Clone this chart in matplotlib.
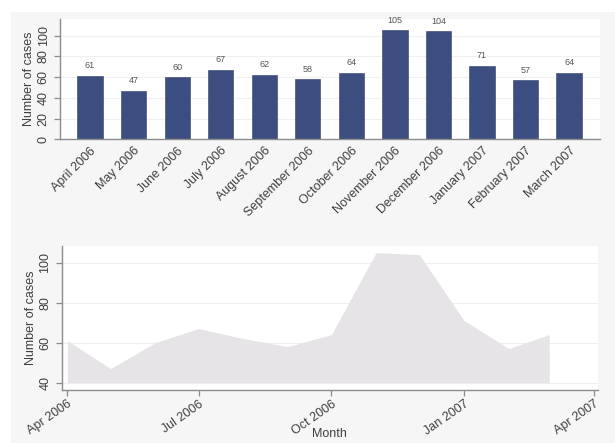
import numpy as np
import pandas as pd
import matplotlib
matplotlib.use("Agg")
import matplotlib.pyplot as plt
import matplotlib.dates as mdates
from matplotlib.patches import Rectangle

# ===================== Data =====================

month_labels = ["April 2006", "May 2006", "June 2006", "July 2006",
                "August 2006", "September 2006", "October 2006",
                "November 2006", "December 2006", "January 2007",
                "February 2007", "March 2007"]
month_starts = ["2006-04-01", "2006-05-01", "2006-06-01", "2006-07-01",
                "2006-08-01", "2006-09-01", "2006-10-01", "2006-11-01",
                "2006-12-01", "2007-01-01", "2007-02-01", "2007-03-01"]
cases = [61, 47, 60, 67, 62, 58, 64, 105, 104, 71, 57, 64]

date_ticks = ["2006-04-01", "2006-07-01", "2006-10-01", "2007-01-01", "2007-04-01"]

# ===================== Style =====================

plt.rcParams["font.family"] = ["Liberation Sans", "DejaVu Sans"]
bar_color = "#3c4e80"
area_color = "#e6e4e6"
axis_color = "#8c8c8c"
text_color = "#3f3f3f"
grid_color = "#f0f0f0"

W, H = 615, 443
fig = plt.figure(figsize=(W / 100, H / 100), dpi=100)
fig.patch.set_facecolor("#f6f6f6")
# white border strip at top / left of the scan
fig.patches.append(Rectangle((0, 1 - 12 / H), 1, 12 / H, transform=fig.transFigure,
                             facecolor="white", edgecolor="none", zorder=-1))
fig.patches.append(Rectangle((0, 0), 11 / W, 1, transform=fig.transFigure,
                             facecolor="white", edgecolor="none", zorder=-1))


def style_axes(ax):
    for side in ["top", "right"]:
        ax.spines[side].set_visible(False)
    for side in ["left", "bottom"]:
        ax.spines[side].set_color(axis_color)
        ax.spines[side].set_linewidth(1.0)
    ax.set_facecolor("white")
    ax.tick_params(axis="y", colors=axis_color, labelcolor=text_color,
                   length=4, width=0.9, labelsize=9, direction="out")
    ax.yaxis.grid(True, color=grid_color, linewidth=0.8)
    ax.set_axisbelow(True)


# ===================== Top: bar chart =====================

ax = fig.add_axes([60 / W, 1 - 139.3 / H, 540 / W, 120.3 / H])
x = np.arange(len(cases))
ax.bar(x, cases, width=0.58, color=bar_color, edgecolor="#2f3f6a",
       linewidth=0.4, zorder=2)
ax.set_xlim(-0.69, 11.71)
ax.set_ylim(0, 116)
ax.set_yticks([0, 20, 40, 60, 80, 100])
style_axes(ax)
ax.set_xticks(x)
ax.set_xticklabels(month_labels, rotation=45, ha="right", rotation_mode="anchor",
                   fontsize=9, color=text_color)
ax.tick_params(axis="x", length=0, pad=4)
for lab in ax.get_yticklabels():
    lab.set_rotation(90)
    lab.set_va("center")
ax.set_ylabel("Number of cases", fontsize=9, color=text_color, labelpad=2)

for xi, v in zip(x, cases):
    ax.annotate(str(v), (xi, v), xytext=(0, 4), textcoords="offset points",
                ha="center", va="bottom", fontsize=6.5, color="#555555")

# ===================== Bottom: area chart =====================

ax2 = fig.add_axes([61.7 / W, 1 - 390 / H, 536.3 / W, 144 / H])
dates = pd.to_datetime(month_starts)
ax2.fill_between(dates, cases, 40, color=area_color, linewidth=0, zorder=2)
ax2.set_ylim(36.3, 108.3)
ax2.set_yticks([40, 60, 80, 100])
ax2.set_xlim(pd.Timestamp("2006-04-01") - pd.Timedelta(days=3.9),
             pd.Timestamp("2007-04-01") + pd.Timedelta(days=2.8))
style_axes(ax2)
ax2.set_xticks(pd.to_datetime(date_ticks))
ax2.xaxis.set_major_formatter(mdates.DateFormatter("%b %Y"))
ax2.tick_params(axis="x", colors=axis_color, labelcolor=text_color,
                length=4, width=0.9, labelsize=9, direction="out", pad=2)
for lab in ax2.get_xticklabels():
    lab.set_rotation(35)
    lab.set_ha("right")
    lab.set_rotation_mode("anchor")
for lab in ax2.get_yticklabels():
    lab.set_rotation(90)
    lab.set_va("center")
ax2.set_ylabel("Number of cases", fontsize=9, color=text_color, labelpad=2)
ax2.set_xlabel("Month", fontsize=9, color=text_color)
ax2.xaxis.set_label_coords(0.5, (390 - 434) / 144)
ax2.xaxis.label.set_va("center")

fig.savefig("out.png", dpi=100, facecolor=fig.get_facecolor())
